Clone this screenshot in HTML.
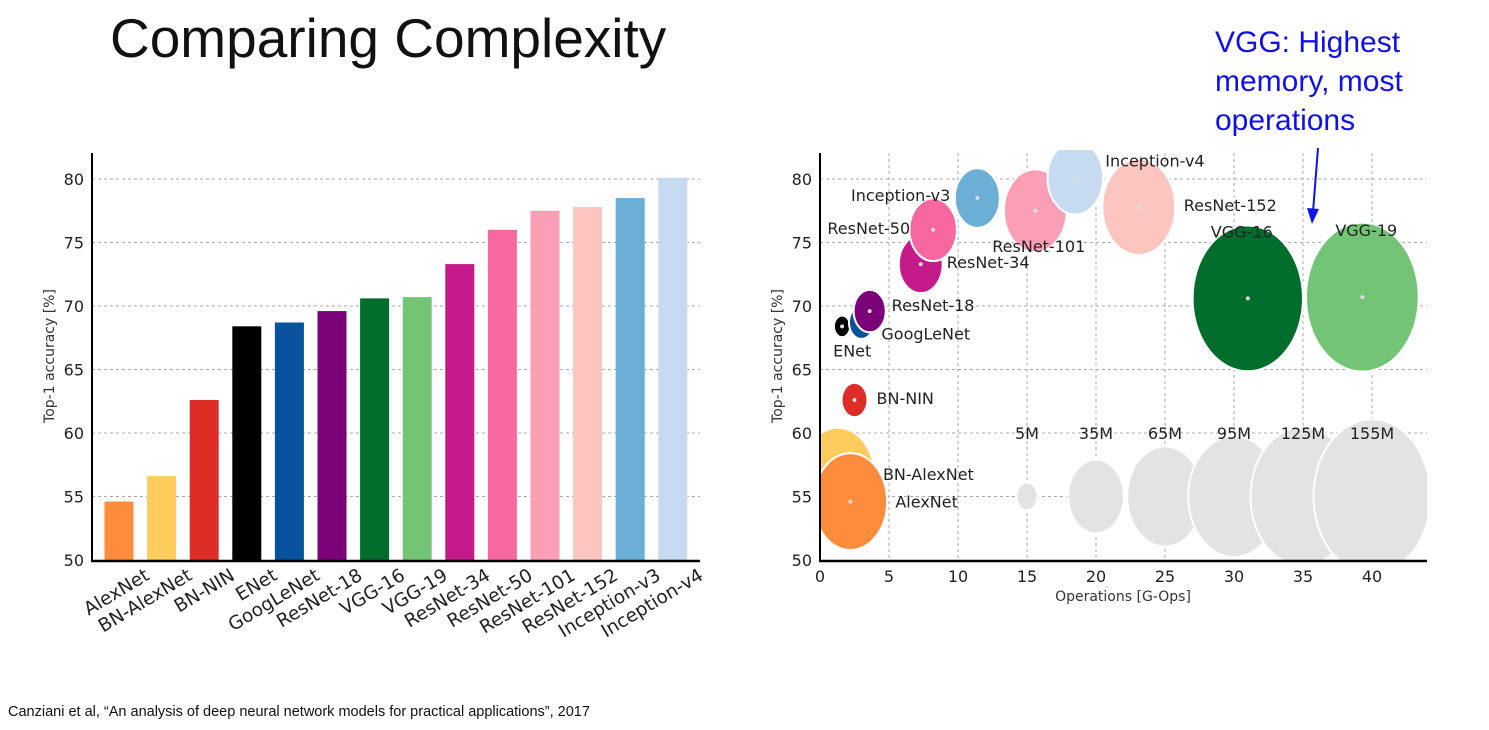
<!DOCTYPE html>
<html><head><meta charset="utf-8"><style>
body{margin:0;background:#fff;width:1489px;height:730px;overflow:hidden;position:relative;font-family:"Liberation Sans",sans-serif}
.t{position:absolute}
</style></head><body>
<div class="t" style="left:110px;top:6px;font-size:55px;color:#111;font-weight:300">Comparing Complexity</div>
<div class="t" style="left:1215px;top:23px;font-size:30px;line-height:39px;color:#1010ee">VGG: Highest<br>memory, most<br>operations</div>
<div class="t" style="left:8px;top:704px;font-size:14.5px;color:#111">Canziani et al, “An analysis of deep neural network models for practical applications”, 2017</div>
<svg id="s" width="1489" height="730" style="position:absolute;left:0;top:0"><defs><clipPath id="rc"><rect x="820" y="150" width="607" height="410"/></clipPath></defs></svg>
<script>
const names=["AlexNet","BN-AlexNet","BN-NIN","ENet","GoogLeNet","ResNet-18","VGG-16","VGG-19","ResNet-34","ResNet-50","ResNet-101","ResNet-152","Inception-v3","Inception-v4"];
const accuracy=[54.6,56.6,62.6,68.4,68.7,69.6,70.6,70.7,73.3,76.0,77.5,77.8,78.5,80.1];
const ops=[2.2,1.3,2.5,1.6,3.0,3.6,31.0,39.3,7.3,8.2,15.6,23.1,11.4,18.5];
const params=[61,61,7.6,3,7,11.7,138,144,21.8,25.5,44.5,60,23,35];
const colors=["#fd8d3c","#fecc5c","#de2d26","#000000","#08519c","#7a0177","#006d2c","#74c476","#c51b8a","#f768a1","#fa9fb5","#fcc5c0","#6baed6","#c6dbef"];
const yTicks=[50,55,60,65,70,75,80];
const xTicks=[0,5,10,15,20,25,30,35,40];
const legendParams=[5,35,65,95,125,155];
const legendLabels=["5M","35M","65M","95M","125M","155M"];
const legendOps=[15,20,25,30,35,40];
const legendAcc=55;
const NS="http://www.w3.org/2000/svg",svg=document.getElementById('s');
function el(t,a,p){const e=document.createElementNS(NS,t);for(const k in a)e.setAttribute(k,a[k]);(p||svg).appendChild(e);return e;}
const y=v=>560-(v-50)*(381/30);
// left chart
const L0=92,L1=700;
const bx=i=>119+i*42.6;
yTicks.forEach(v=>{
 if(v>50){const g=el('line',{x1:L0,x2:L1,y1:y(v),y2:y(v),stroke:'#aaa','stroke-dasharray':'3,3'});}
 const t=el('text',{x:L0-8,y:y(v)+6,'text-anchor':'end','font-size':16,'font-family':'DejaVu Sans,sans-serif',fill:'#222'});t.textContent=v;
 
});
names.forEach((n,i)=>{
 const r=el('rect',{x:bx(i)-14.5,y:y(accuracy[i]),width:29,height:560-y(accuracy[i]),fill:colors[i]});
 
 const ax=bx(i)+24,ay=566;
 const t=el('text',{x:ax,y:ay,'text-anchor':'end','font-size':18.5,'font-family':'DejaVu Sans,sans-serif',fill:'#222',transform:`rotate(-31 ${ax} ${ay})`});
 t.setAttribute('dy','0.8em');t.textContent=n;
 
});
let a1=el('line',{x1:L0,x2:L0,y1:153,y2:561,stroke:'#000','stroke-width':2});
let a2=el('line',{x1:L0-1,x2:L1,y1:561,y2:561,stroke:'#000','stroke-width':2.5});
let yt=el('text',{x:54,y:356,'text-anchor':'middle','font-size':14,'font-family':'DejaVu Sans,sans-serif',fill:'#333',transform:'rotate(-90 54 356)'});yt.textContent='Top-1 accuracy [%]';

// right chart
const R0=820,R1=1427;const x=v=>R0+v*13.8;
const rx=p=>4.7*Math.sqrt(p);
yTicks.forEach(v=>{
 if(v>50){const g=el('line',{x1:R0,x2:R1,y1:y(v),y2:y(v),stroke:'#aaa','stroke-dasharray':'3,3'});}
 const t=el('text',{x:R0-8,y:y(v)+6,'text-anchor':'end','font-size':16,'font-family':'DejaVu Sans,sans-serif',fill:'#222'});t.textContent=v;
 
});
xTicks.forEach(v=>{
 if(v>0){const g=el('line',{x1:x(v),x2:x(v),y1:153,y2:560,stroke:'#aaa','stroke-dasharray':'3,3'});}
 const t=el('text',{x:x(v),y:582,'text-anchor':'middle','font-size':16,'font-family':'DejaVu Sans,sans-serif',fill:'#222'});t.textContent=v;
 
});
const plot=el('g',{'clip-path':'url(#rc)'});


legendParams.forEach((p,i)=>{
 const e=el('ellipse',{cx:x(legendOps[i]),cy:y(legendAcc),rx:rx(p),ry:rx(p)*1.32,fill:'#e3e3e3',stroke:'#fff','stroke-width':2},plot);
 
 const t=el('text',{x:x(legendOps[i]),y:y(60)+6,'text-anchor':'middle','font-size':16,'font-family':'DejaVu Sans,sans-serif',fill:'#222'});t.textContent=legendLabels[i];
 
});
const order=[1,0,2,3,4,5,8,9,12,10,13,11,6,7];
const lab={ "AlexNet":[45,0,'start'],"BN-AlexNet":[45,-2,'start'],"BN-NIN":[22,-2,'start'],"ENet":[-9,24,'start'],"GoogLeNet":[20,11,'start'],"ResNet-18":[22,-6,'start'],"ResNet-34":[26,-2,'start'],"ResNet-50":[-23,-2,'end'],"Inception-v3":[-27,-3,'end'],"ResNet-101":[-43,35,'start'],"Inception-v4":[30,-17,'start'],"ResNet-152":[45,-2,'start'],"VGG-16":[-37,-67,'start'],"VGG-19":[-27,-67,'start']};
order.forEach(i=>{
 const r=Math.max(rx(params[i]),8);
 const e=el('ellipse',{cx:x(ops[i]),cy:y(accuracy[i]),rx:r,ry:r*1.32,fill:colors[i],stroke:'#fff','stroke-width':2},plot);
 
 const d=el('circle',{cx:x(ops[i]),cy:y(accuracy[i]),r:2,fill:'#ddd'},plot);
 
});
order.forEach(i=>{
 const o=lab[names[i]];
 const t=el('text',{x:x(ops[i])+o[0],y:y(accuracy[i])+o[1]+6,'text-anchor':o[2],'font-size':16,'font-family':'DejaVu Sans,sans-serif',fill:'#222'});t.textContent=names[i];
 
});
let b1=el('line',{x1:R0,x2:R0,y1:153,y2:561,stroke:'#000','stroke-width':2});
let b2=el('line',{x1:R0-1,x2:R1,y1:561,y2:561,stroke:'#000','stroke-width':2.5});
let xt2=el('text',{x:1123,y:601,'text-anchor':'middle','font-size':14,'font-family':'DejaVu Sans,sans-serif',fill:'#333'});xt2.textContent='Operations [G-Ops]';

let yt2=el('text',{x:782,y:356,'text-anchor':'middle','font-size':14,'font-family':'DejaVu Sans,sans-serif',fill:'#333',transform:'rotate(-90 782 356)'});yt2.textContent='Top-1 accuracy [%]';

let ar=el('line',{x1:1318,y1:148,x2:1313,y2:212,stroke:'#1010ee','stroke-width':2});
let ah=el('polygon',{points:'1307,208 1319,209 1312,224',fill:'#1010ee'});
</script>
</body></html>
